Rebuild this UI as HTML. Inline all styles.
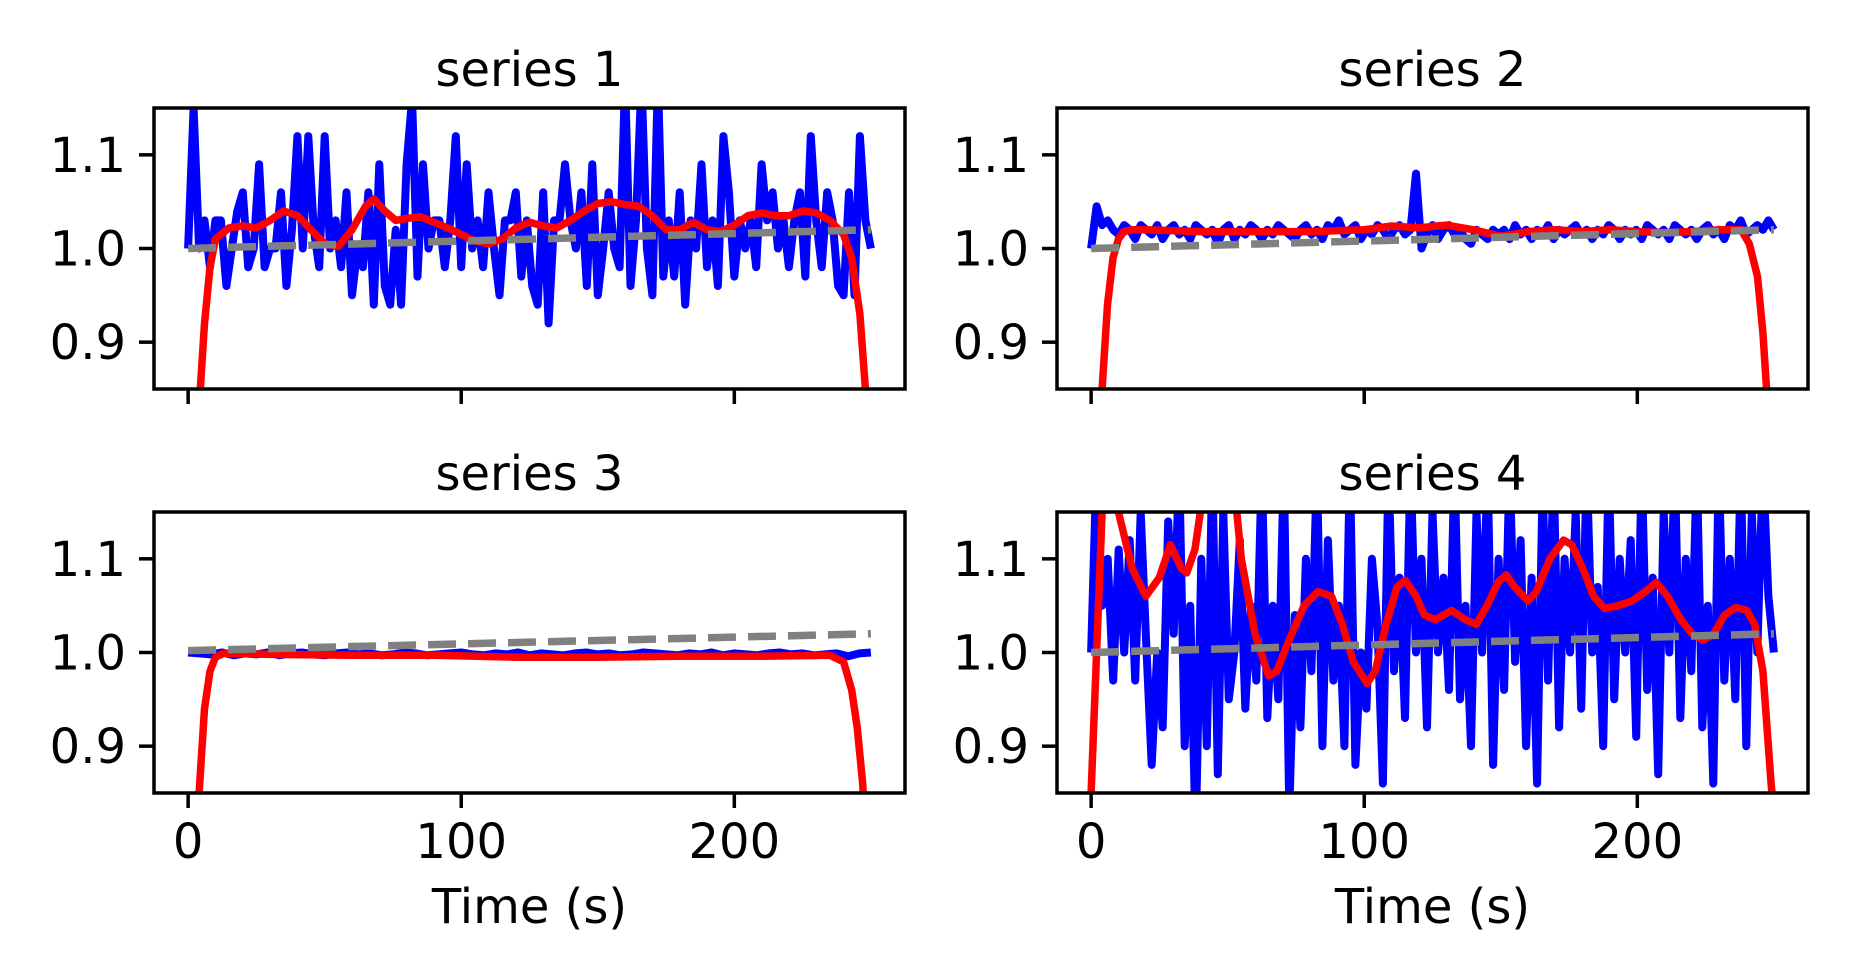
<!DOCTYPE html>
<html><head><meta charset="utf-8"><style>
html,body{margin:0;padding:0;background:#fff;overflow:hidden;width:1851px;height:977px;}
svg{display:block;font-family:"DejaVu Sans","Liberation Sans",sans-serif;}
</style></head><body>
<svg id="chart" width="1851" height="977" viewBox="0 0 1851 977" xmlns="http://www.w3.org/2000/svg"></svg>
<script>
// ---- data ----
const xTicks = [0, 100, 200];
const yTicks = [0.9, 1.0, 1.1];
const yTickLabels = ["0.9", "1.0", "1.1"];
const titles = ["series 1", "series 2", "series 3", "series 4"];
const trendStart = [1.0, 1.0, 1.002, 1.0];
const trendEnd = [1.02, 1.02, 1.02, 1.02];

const blue1 = [1.0,1.15,1.0,1.03,0.98,1.03,1.03,0.96,1.0,1.04,1.06,0.98,1.0,1.09,0.98,1.0,1.0,1.06,0.96,1.02,1.12,1.0,1.12,1.02,0.98,1.12,1.0,1.03,0.98,1.06,0.95,1.0,0.98,1.06,0.94,1.09,0.96,0.94,1.02,0.94,1.09,1.16,0.97,1.09,1.0,1.03,1.03,0.98,1.03,1.12,0.98,1.09,1.0,1.03,0.98,1.06,1.0,0.95,1.03,1.03,1.06,0.97,1.03,0.96,0.94,1.06,0.92,1.03,1.03,1.09,1.03,1.0,1.06,0.96,1.09,0.95,1.0,1.06,1.0,0.98,1.18,0.96,1.03,1.18,1.0,0.95,1.18,0.97,1.03,0.97,1.06,0.94,1.03,1.0,1.09,0.98,1.03,0.96,1.12,1.06,0.97,1.03,1.0,1.03,0.98,1.09,1.03,1.06,1.0,1.03,0.98,1.03,1.06,0.97,1.12,1.03,0.98,1.06,1.03,0.96,0.95,1.06,0.95,1.12,1.03,1.0];
const blue2 = [1.0,1.045,1.025,1.03,1.02,1.015,1.025,1.02,1.01,1.025,1.02,1.015,1.025,1.01,1.02,1.025,1.015,1.02,1.01,1.025,1.02,1.015,1.02,1.005,1.02,1.025,1.01,1.02,1.015,1.025,1.02,1.01,1.02,1.015,1.025,1.02,1.015,1.01,1.02,1.025,1.015,1.02,1.01,1.025,1.02,1.03,1.015,1.02,1.025,1.01,1.02,1.015,1.025,1.02,1.01,1.02,1.025,1.015,1.02,1.08,1.0,1.015,1.025,1.01,1.02,1.025,1.015,1.02,1.01,1.005,1.02,1.015,1.01,1.02,1.015,1.02,1.01,1.025,1.015,1.02,1.01,1.02,1.015,1.025,1.01,1.02,1.015,1.02,1.025,1.015,1.02,1.01,1.02,1.015,1.025,1.02,1.01,1.02,1.015,1.02,1.01,1.025,1.02,1.015,1.02,1.01,1.025,1.02,1.015,1.02,1.01,1.02,1.025,1.015,1.02,1.01,1.025,1.02,1.03,1.015,1.02,1.025,1.02,1.03,1.02];
const blue3 = [1.0,0.999,0.998,1.0,0.997,0.999,0.998,1.0,0.997,0.999,1.0,0.998,0.997,0.999,1.0,0.998,0.999,0.997,0.998,1.0,0.999,0.997,0.998,0.999,1.0,0.998,0.997,0.999,0.998,1.0,0.997,0.999,0.998,0.997,0.999,1.0,0.998,0.999,0.997,0.998,1.0,0.999,0.998,0.997,0.999,0.998,1.0,0.997,0.999,0.998,0.997,0.999,1.0,0.998,0.999,0.997,0.998,0.999,0.996,0.999,1.0];
const blue4 = [1.0,1.2,1.05,1.1,0.97,1.11,1.0,1.12,0.97,1.15,1.01,0.88,1.0,0.92,1.14,1.02,1.2,0.9,1.05,0.8,1.1,0.9,1.2,0.87,1.15,0.95,1.0,1.12,0.94,1.05,0.97,1.2,0.93,1.05,0.95,1.2,0.83,1.04,0.92,1.1,0.98,1.2,0.9,1.12,0.97,1.05,0.9,1.2,0.88,1.0,0.94,1.1,1.03,0.86,1.2,0.98,1.08,0.93,1.2,1.0,1.1,0.92,1.15,1.0,1.08,0.96,1.2,0.95,1.05,0.9,1.15,1.0,1.2,0.88,1.1,0.96,1.2,0.99,1.12,0.9,1.08,0.86,1.18,0.97,1.2,0.92,1.1,1.0,1.15,0.94,1.2,1.0,1.07,0.9,1.2,0.95,1.1,1.0,1.12,0.91,1.2,0.96,1.08,0.87,1.15,1.0,1.2,0.93,1.1,0.98,1.2,0.92,1.05,0.86,1.2,0.97,1.1,0.95,1.2,0.9,1.15,1.0,1.2,1.06,1.0];

const red1X = [0,2,4,6,8,10,15,20,25,30,35,40,45,50,55,60,65,68,72,76,80,85,90,95,100,105,110,115,120,125,130,135,140,145,150,155,160,165,170,175,180,185,190,195,200,205,210,215,220,225,230,235,240,243,246,248,250];
const red1Y = [0.4,0.7,0.83,0.92,0.98,1.01,1.022,1.024,1.022,1.03,1.04,1.035,1.02,1.005,1.002,1.02,1.045,1.053,1.04,1.03,1.032,1.034,1.028,1.022,1.015,1.008,1.005,1.01,1.022,1.028,1.024,1.022,1.03,1.04,1.048,1.05,1.047,1.045,1.035,1.02,1.02,1.028,1.02,1.018,1.025,1.035,1.038,1.035,1.035,1.04,1.038,1.03,1.015,0.99,0.93,0.85,0.7];
const red2X = [0,2,4,6,8,10,12,15,20,40,60,80,100,110,120,130,140,150,160,170,180,190,200,210,220,230,238,241,244,246,248,250];
const red2Y = [0.4,0.7,0.85,0.94,0.99,1.01,1.018,1.02,1.02,1.018,1.018,1.018,1.02,1.024,1.022,1.025,1.02,1.013,1.018,1.02,1.018,1.02,1.018,1.017,1.018,1.02,1.02,1.005,0.97,0.91,0.82,0.6];
const red3X = [0,2,4,6,8,10,13,16,30,60,90,120,150,180,210,235,240,243,245,247,249,250];
const red3Y = [0.4,0.75,0.85,0.94,0.98,0.995,0.999,0.999,0.998,0.997,0.997,0.995,0.995,0.996,0.996,0.997,0.99,0.96,0.92,0.86,0.75,0.6];
const red4X = [0,2,4,6,8,10,15,20,25,29,33,35,38,40,45,50,55,60,65,68,72,78,83,88,92,96,101,104,108,112,115,119,122,126,132,137,141,145,149,152,155,160,163,168,173,176,180,184,188,193,198,203,207,211,216,220,224,228,232,236,240,243,246,249,250];
const red4Y = [0.85,1.0,1.15,1.25,1.2,1.15,1.09,1.06,1.08,1.115,1.09,1.085,1.11,1.15,1.3,1.25,1.1,1.02,0.975,0.98,1.01,1.05,1.065,1.06,1.03,0.99,0.967,0.98,1.03,1.07,1.077,1.06,1.04,1.035,1.045,1.035,1.03,1.05,1.075,1.083,1.07,1.055,1.065,1.1,1.12,1.115,1.09,1.06,1.047,1.05,1.055,1.065,1.075,1.06,1.035,1.02,1.013,1.02,1.04,1.048,1.045,1.03,0.98,0.86,0.83];

const blues = [blue1, blue2, blue3, blue4];
const redXs = [red1X, red2X, red3X, red4X];
const redYs = [red1Y, red2Y, red3Y, red4Y];

// ---- layout ----
const NS = "http://www.w3.org/2000/svg";
const svg = document.getElementById("chart");
const panels = [
  {l:154, r:905, t:108, b:389},
  {l:1057, r:1808, t:108, b:389},
  {l:154, r:905, t:512, b:793},
  {l:1057, r:1808, t:512, b:793}
];
const XMIN = -12.5, XMAX = 262.5, YMIN = 0.85, YMAX = 1.15;
const FS = 48;

function mk(tag, attrs, parent) {
  const e = document.createElementNS(NS, tag);
  for (const k in attrs) e.setAttribute(k, attrs[k]);
  (parent || svg).appendChild(e);
  return e;
}

panels.forEach((p, i) => {
  const sx = v => p.l + (v - XMIN) / (XMAX - XMIN) * (p.r - p.l);
  const sy = v => p.b - (v - YMIN) / (YMAX - YMIN) * (p.b - p.t);
  const g = mk("g", {});
  
  

  const cp = mk("clipPath", {id: "clip" + i}, g);
  mk("rect", {x: p.l, y: p.t, width: p.r - p.l, height: p.b - p.t}, cp);
  const plot = mk("g", {"clip-path": "url(#clip" + i + ")"}, g);

  const b = blues[i];
  const bpts = b.map((v, k) => sx(k * 250 / (b.length - 1)).toFixed(1) + "," + sy(v).toFixed(1)).join(" ");
  const bl = mk("polyline", {points: bpts, fill: "none", stroke: "#0000ff", "stroke-width": 8, "stroke-linejoin": "round"}, plot);
  
  

  const rx = redXs[i], ry = redYs[i];
  const rpts = rx.map((x, k) => sx(x).toFixed(1) + "," + sy(ry[k]).toFixed(1)).join(" ");
  const rl = mk("polyline", {points: rpts, fill: "none", stroke: "#ff0000", "stroke-width": 7.5, "stroke-linejoin": "round"}, plot);
  
  

  const tl = mk("line", {x1: sx(0), y1: sy(trendStart[i]), x2: sx(250), y2: sy(trendEnd[i]), stroke: "#808080", "stroke-width": 7.5, "stroke-dasharray": "28 12"}, plot);
  
  

  const fr = mk("rect", {x: p.l, y: p.t, width: p.r - p.l, height: p.b - p.t, fill: "none", stroke: "#000", "stroke-width": 3.5}, g);
  
  

  yTicks.forEach((v, k) => {
    mk("line", {x1: p.l - 15, x2: p.l, y1: sy(v), y2: sy(v), stroke: "#000", "stroke-width": 3.5}, g);
    const t = mk("text", {x: p.l - 28, y: sy(v) + 17, "text-anchor": "end", "font-size": FS, fill: "#000"}, g);
    t.textContent = yTickLabels[k];
    
    
  });
  xTicks.forEach(v => {
    mk("line", {x1: sx(v), x2: sx(v), y1: p.b, y2: p.b + 15, stroke: "#000", "stroke-width": 3.5}, g);
    if (i >= 2) {
      const t = mk("text", {x: sx(v), y: p.b + 65, "text-anchor": "middle", "font-size": FS, fill: "#000"}, g);
      t.textContent = String(v);
      
      
    }
  });
  if (i >= 2) {
    const xl = mk("text", {x: (p.l + p.r) / 2, y: p.b + 130, "text-anchor": "middle", "font-size": FS, fill: "#000"}, g);
    xl.textContent = "Time (s)";
    
    
  }
  const tt = mk("text", {x: (p.l + p.r) / 2, y: p.t - 22, "text-anchor": "middle", "font-size": FS, fill: "#000"}, g);
  tt.textContent = titles[i];
  
  
});
</script>
</body></html>
